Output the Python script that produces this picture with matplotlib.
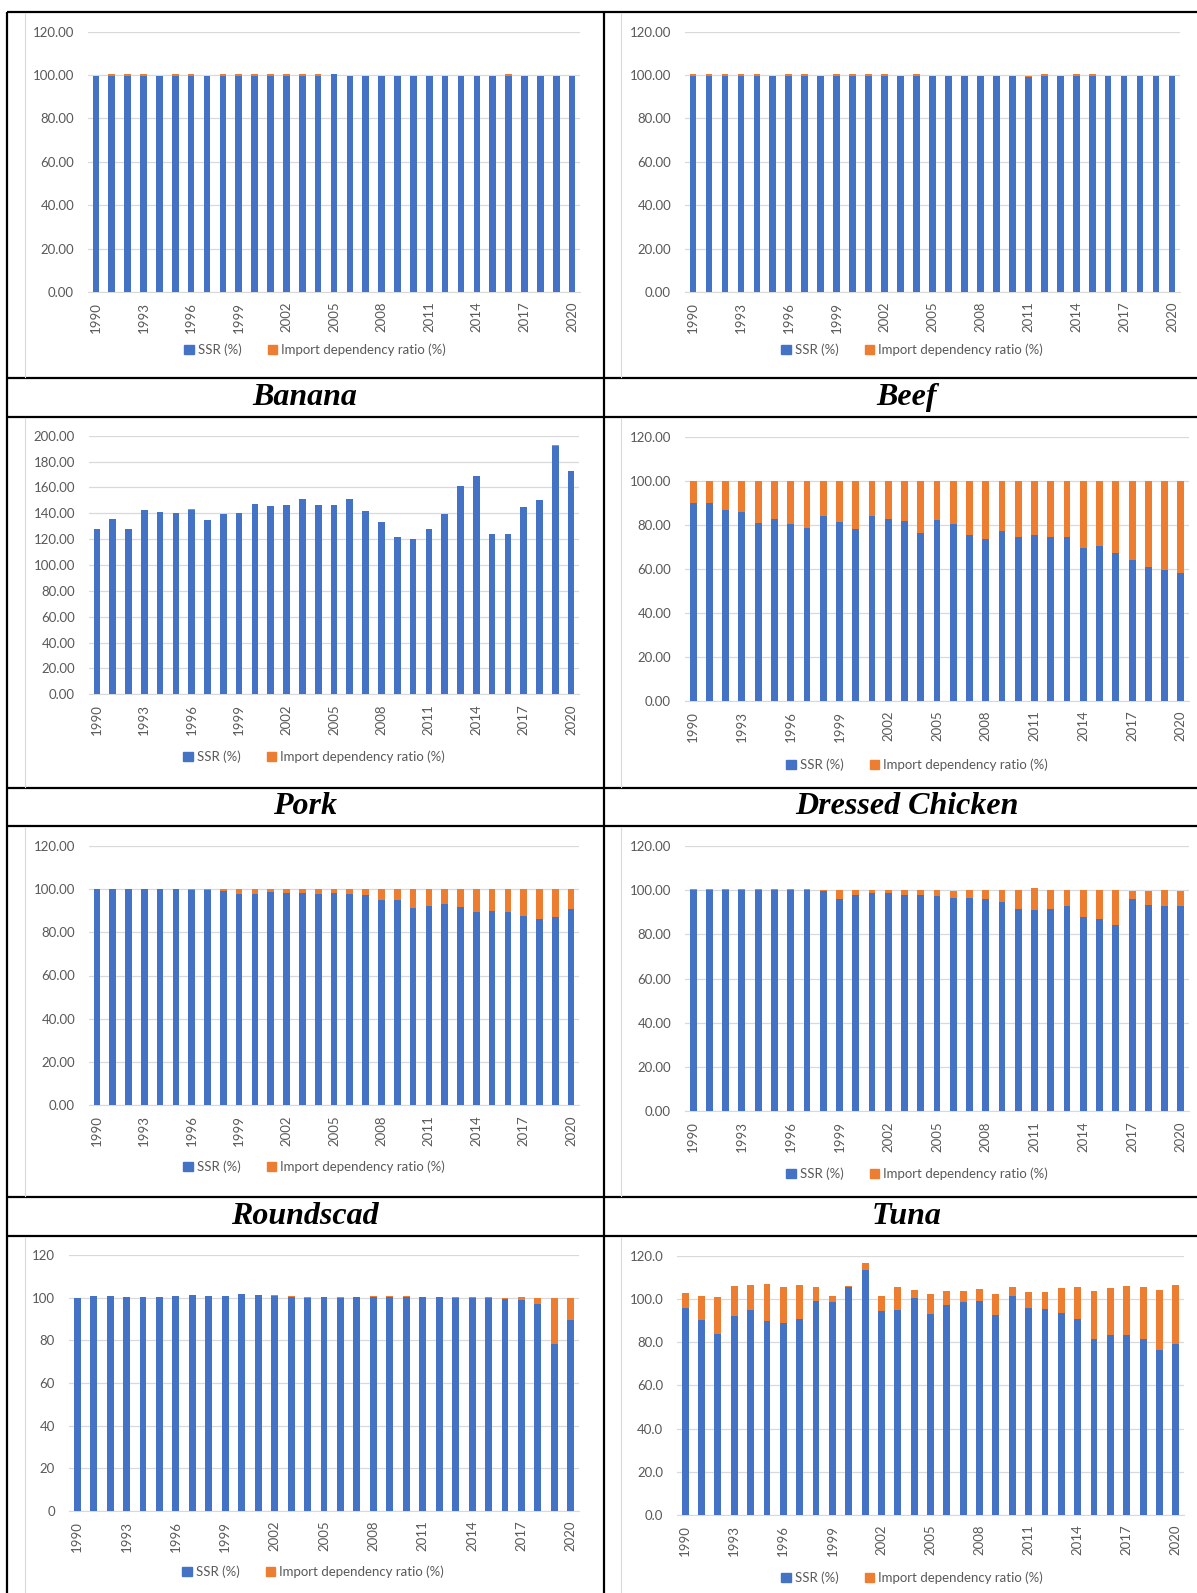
import numpy as np
import matplotlib
matplotlib.use("Agg")
import matplotlib.pyplot as plt
from matplotlib.patches import Patch
from matplotlib.ticker import FormatStrFormatter

plt.rcParams['font.family'] = ['Lato', 'DejaVu Sans']

years = list(range(1990, 2021))

# top row (commodity names not visible in the crop)
top_left_ssr = [99.8, 99.8, 99.8, 99.8, 99.8, 99.8, 99.8, 99.8, 99.8, 99.8, 99.8,
                99.8, 99.8, 99.8, 99.8, 100.5, 99.8, 99.8, 99.8, 99.8, 99.8, 99.8,
                99.8, 99.8, 99.8, 99.8, 99.8, 99.8, 99.8, 99.8, 99.8]
top_left_imp = [0.0, 0.5, 0.5, 0.5, 0.0, 0.5, 0.5, 0.0, 0.5, 0.5, 0.5,
                0.5, 0.5, 0.5, 0.5, 0.0, 0.0, 0.0, 0.0, 0.0, 0.0, 0.0,
                0.0, 0.0, 0.0, 0.0, 0.5, 0.0, 0.0, 0.0, 0.0]

top_right_ssr = [99.8, 99.8, 99.8, 99.8, 99.8, 99.8, 99.8, 99.8, 99.8, 99.8, 99.8,
                 99.8, 99.8, 99.8, 99.8, 99.8, 99.8, 99.8, 99.8, 99.8, 99.8, 99.3,
                 99.8, 99.8, 99.8, 99.8, 99.8, 99.8, 99.8, 99.8, 99.8]
top_right_imp = [0.5, 0.5, 0.5, 0.5, 0.5, 0.0, 0.5, 0.5, 0.0, 0.5, 0.5,
                 0.5, 0.5, 0.0, 0.5, 0.0, 0.0, 0.0, 0.0, 0.0, 0.0, 0.4,
                 0.5, 0.0, 0.5, 0.5, 0.0, 0.0, 0.0, 0.0, 0.0]

banana_ssr = [127.8, 135.3, 127.8, 142.8, 141.2, 139.9, 142.3, 134.5, 139.2, 139.9, 147.2,
              145.9, 146.6, 151.0, 146.4, 146.4, 150.8, 142.0, 133.0, 121.6, 120.4, 127.8,
              139.7, 160.8, 168.8, 124.0, 124.0, 145.1, 150.3, 192.0, 172.7]
banana_imp = [0.0, 0.0, 0.0, 0.0, 0.0, 0.0, 0.8, 0.0, 0.0, 0.0, 0.0,
              0.0, 0.0, 0.0, 0.0, 0.0, 0.0, 0.0, 0.0, 0.0, 0.0, 0.0,
              0.0, 0.0, 0.0, 0.0, 0.0, 0.0, 0.0, 0.9, 0.0]

beef_ssr = [90.0, 89.9, 86.7, 85.8, 80.8, 82.5, 80.2, 78.4, 83.8, 81.1, 78.1,
            83.8, 82.5, 81.5, 76.2, 82.3, 80.2, 75.3, 73.5, 77.2, 74.4, 75.3,
            74.4, 74.4, 69.6, 70.3, 67.2, 63.8, 60.8, 59.5, 58.2]
beef_imp = [10.0, 10.1, 13.3, 14.2, 19.2, 17.5, 19.8, 21.6, 16.2, 18.9, 21.9,
            16.2, 17.5, 18.5, 23.8, 17.7, 19.8, 24.7, 26.5, 22.8, 25.6, 24.7,
            25.6, 25.6, 30.4, 29.7, 32.8, 36.2, 39.2, 40.5, 41.8]

pork_ssr = [99.8, 100.0, 100.0, 100.0, 100.0, 100.0, 99.5, 99.5, 99.1, 97.5, 97.5,
            98.5, 98.1, 98.1, 97.5, 98.1, 97.5, 97.1, 94.9, 94.9, 91.3, 92.3,
            93.2, 91.8, 89.5, 90.0, 89.5, 87.6, 85.9, 87.2, 90.9]
pork_imp = [0.2, 0.0, 0.0, 0.0, 0.0, 0.0, 0.5, 0.5, 0.9, 2.5, 2.5,
            1.5, 1.9, 1.9, 2.5, 1.9, 2.5, 2.9, 5.1, 5.1, 8.7, 7.7,
            6.8, 8.2, 10.5, 10.0, 10.5, 12.4, 14.1, 12.8, 9.1]

chicken_ssr = [100.0, 100.0, 100.0, 100.0, 100.0, 100.0, 100.0, 100.0, 99.7, 95.9, 98.0,
               98.6, 98.6, 98.0, 98.0, 97.6, 96.5, 96.4, 95.9, 94.6, 91.5, 91.1,
               91.5, 92.9, 88.1, 87.2, 84.4, 95.9, 93.4, 92.9, 92.9]
chicken_imp = [0.5, 0.5, 0.5, 0.5, 0.5, 0.5, 0.5, 0.5, 0.3, 4.1, 2.0,
               1.4, 1.4, 2.0, 2.3, 2.7, 3.3, 3.9, 4.4, 5.7, 8.8, 9.7,
               8.8, 7.4, 12.2, 13.1, 15.9, 3.9, 6.4, 7.4, 6.9]

roundscad_ssr = [99.7, 100.8, 100.8, 100.2, 100.2, 100.2, 100.8, 101.1, 100.8, 100.8, 101.6,
                 101.1, 100.8, 100.2, 99.8, 100.2, 99.8, 100.2, 100.2, 100.2, 100.2, 100.2,
                 100.2, 99.8, 99.8, 99.8, 99.4, 98.7, 97.0, 78.4, 89.3]
roundscad_imp = [0.0, 0.0, 0.0, 0.0, 0.0, 0.0, 0.0, 0.0, 0.0, 0.0, 0.0,
                 0.0, 0.3, 0.4, 0.3, 0.0, 0.3, 0.0, 0.4, 0.4, 0.4, 0.0,
                 0.0, 0.3, 0.3, 0.3, 0.4, 1.4, 2.8, 21.4, 10.5]

tuna_ssr = [96.0, 90.2, 83.9, 92.1, 94.7, 89.8, 88.8, 90.7, 99.2, 98.7, 105.5,
            113.5, 94.3, 94.7, 100.6, 93.0, 97.3, 98.7, 99.2, 92.5, 101.3, 96.0,
            95.3, 93.3, 90.7, 81.3, 83.5, 83.5, 81.3, 76.4, 79.0]
tuna_imp = [6.7, 11.1, 17.0, 13.8, 11.6, 16.9, 16.5, 15.6, 6.1, 2.6, 0.4,
            3.0, 7.0, 10.6, 3.4, 9.3, 6.2, 4.8, 5.2, 9.8, 4.0, 7.2,
            7.9, 11.6, 14.6, 22.2, 21.4, 22.4, 24.0, 27.6, 27.3]

titles = [("Banana", 305, 397.5), ("Beef", 907, 397.5),
          ("Pork", 305, 807), ("Dressed Chicken", 907, 807),
          ("Roundscad", 305, 1216.5), ("Tuna", 907, 1216.5)]

W, H = 1197, 1593
fig = plt.figure(figsize=(W / 100, H / 100), dpi=100)

# table frame drawn in pixel coords
bg = fig.add_axes([0, 0, 1, 1])
bg.set_xlim(0, W)
bg.set_ylim(H, 0)
bg.axis('off')
for yy in [12, 378, 417, 788, 826, 1197, 1236]:
    bg.plot([7, W], [yy, yy], color='black', lw=1.6, solid_capstyle='butt')
for xx in [7, 604]:
    bg.plot([xx, xx], [12, H], color='black', lw=1.6, solid_capstyle='butt')
# faint chart-area edges
for (y0, y1) in [(14, 377), (418, 787), (828, 1196), (1238, H)]:
    bg.plot([25, 25], [y0, y1], color='#D9D9D9', lw=0.8)
    bg.plot([621, 621], [y0, y1], color='#D9D9D9', lw=0.8)
for name, tx, ty in titles:
    bg.text(tx, ty, name, ha='center', va='center', fontsize=23,
            family='Liberation Serif', weight='bold', style='italic')

blue = '#4472C4'
orange = '#ED7D31'
grey_txt = '#595959'

# ssr, imp, x0, x1, ytop, ybot, ymax, step, fmt, legend x, legend y
panels = [
    (top_left_ssr, top_left_imp, 88, 580, 31.7, 292, 120, 20, '%.2f', 315, 350),
    (top_right_ssr, top_right_imp, 685, 1180, 31.7, 292, 120, 20, '%.2f', 912, 350),
    (banana_ssr, banana_imp, 89, 579, 435.7, 694.3, 200, 20, '%.2f', 314, 757),
    (beef_ssr, beef_imp, 685, 1189, 436.7, 701, 120, 20, '%.2f', 917, 765),
    (pork_ssr, pork_imp, 89, 579, 845.7, 1105.3, 120, 20, '%.2f', 314, 1167),
    (chicken_ssr, chicken_imp, 685, 1189, 846, 1111.3, 120, 20, '%.2f', 917, 1174),
    (roundscad_ssr, roundscad_imp, 69, 579, 1255, 1511, 120, 20, '%d', 313, 1572),
    (tuna_ssr, tuna_imp, 677, 1184, 1255.7, 1515, 120, 20, '%.1f', 912, 1578),
]

x = np.arange(len(years))
for ssr, imp, x0, x1, yt, yb, ymax, step, fmt, lx, ly in panels:
    ax = fig.add_axes([x0 / W, 1 - yb / H, (x1 - x0) / W, (yb - yt) / H])
    ax.bar(x, ssr, width=0.42, color=blue, zorder=3)
    ax.bar(x, imp, width=0.42, bottom=ssr, color=orange, zorder=3)
    ax.set_xlim(-0.5, len(years) - 0.5)
    ax.set_ylim(0, ymax)
    ax.set_yticks(np.arange(0, ymax + 1, step))
    ax.yaxis.set_major_formatter(FormatStrFormatter(fmt))
    ax.set_xticks(x[::3])
    ax.set_xticklabels([str(y) for y in years[::3]], rotation=90)
    ax.grid(axis='y', color='#D9D9D9', lw=0.9, zorder=0)
    for s in ['top', 'right', 'left']:
        ax.spines[s].set_visible(False)
    ax.spines['bottom'].set_color('#D9D9D9')
    ax.tick_params(axis='both', length=0, labelsize=9.5, colors=grey_txt)
    ax.tick_params(axis='y', pad=10)
    ax.tick_params(axis='x', pad=7)
    handles = [Patch(color=blue, label='SSR (%)'),
               Patch(color=orange, label='Import dependency ratio (%)')]
    leg = ax.legend(handles=handles, loc='center', ncol=2, frameon=False,
                    bbox_to_anchor=(lx / W, 1 - ly / H), bbox_transform=fig.transFigure,
                    fontsize=9.5, handlelength=0.7, handleheight=0.7,
                    handletextpad=0.3, columnspacing=2.0)
    for t in leg.get_texts():
        t.set_color(grey_txt)

fig.savefig('out.png', dpi=100)
